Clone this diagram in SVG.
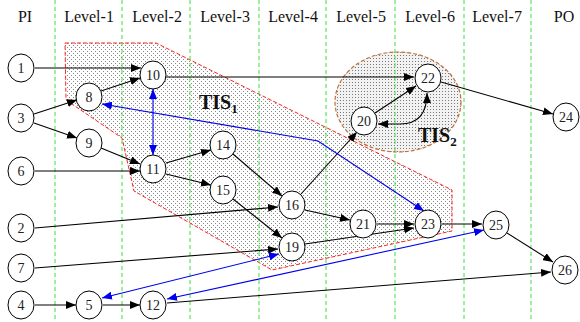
<svg xmlns="http://www.w3.org/2000/svg" width="580" height="322" viewBox="0 0 580 322">
<style>
.hdr{font-family:"Liberation Serif","Times New Roman",serif;font-size:16px;fill:#111;text-anchor:middle}
.grid{stroke:#3ae03a;stroke-width:1;stroke-dasharray:4,3}
.e{stroke:#000;stroke-width:1.1;fill:none;marker-end:url(#ab)}
.b{stroke:#0000ee;stroke-width:1.1;fill:none;marker-end:url(#abl);marker-start:url(#abl)}
.n ellipse{fill:#fff;stroke:#000;stroke-width:1}
.n text{font-family:"Liberation Serif","Times New Roman",serif;font-size:14px;fill:#222;text-anchor:middle}
.tis{font-family:"Liberation Serif","Times New Roman",serif;font-size:20px;font-weight:bold;fill:#111}
</style>
<defs>
<marker id="ab" viewBox="0 0 10 8" refX="10" refY="4" markerWidth="10" markerHeight="8" markerUnits="userSpaceOnUse" orient="auto-start-reverse"><path d="M0,0 L10,4 L0,8 z" fill="#000"/></marker>
<marker id="abl" viewBox="0 0 10 8" refX="10" refY="4" markerWidth="10" markerHeight="8" markerUnits="userSpaceOnUse" orient="auto-start-reverse"><path d="M0,0 L10,4 L0,8 z" fill="#0000ee"/></marker>
<pattern id="dots1" width="4" height="4" patternUnits="userSpaceOnUse"><rect width="4" height="4" fill="#fff"/><rect x="1" y="1" width="1" height="1" fill="#888"/><rect x="3" y="3" width="1" height="1" fill="#888"/></pattern>
<pattern id="dots2" width="3" height="3" patternUnits="userSpaceOnUse"><rect width="3" height="3" fill="#f2f2f2"/><rect x="1" y="1" width="1" height="1" fill="#777"/></pattern>
</defs>
<g id="regions">
<path id="TIS1-region" d="M65,43 L156,43 L452,190 L452,231 L272,270 L134,191 L122,138 L66,100 Z" fill="url(#dots1)" stroke="#ff2020" stroke-width="1" stroke-dasharray="4,2"/>
<ellipse id="TIS2-region" cx="398" cy="102" rx="63" ry="50" fill="url(#dots2)" stroke="#c0703a" stroke-width="1.2" stroke-dasharray="4,2"/>
</g>
<g id="grid">
<line class="grid" x1="55" y1="0" x2="55" y2="322"/>
<line class="grid" x1="122" y1="0" x2="122" y2="322"/>
<line class="grid" x1="190" y1="0" x2="190" y2="322"/>
<line class="grid" x1="259" y1="0" x2="259" y2="322"/>
<line class="grid" x1="326" y1="0" x2="326" y2="322"/>
<line class="grid" x1="395" y1="0" x2="395" y2="322"/>
<line class="grid" x1="464" y1="0" x2="464" y2="322"/>
<line class="grid" x1="531" y1="0" x2="531" y2="322"/>
</g>
<g id="headers">
<text class="hdr" x="25" y="22">PI</text>
<text class="hdr" x="89" y="22">Level-1</text>
<text class="hdr" x="157" y="22">Level-2</text>
<text class="hdr" x="225" y="22">Level-3</text>
<text class="hdr" x="293" y="22">Level-4</text>
<text class="hdr" x="361" y="22">Level-5</text>
<text class="hdr" x="430" y="22">Level-6</text>
<text class="hdr" x="497" y="22">Level-7</text>
<text class="hdr" x="564" y="22">PO</text>
</g>
<g id="connectors">
<path class="e" d="M35,68 L141,68"/>
<path class="e" d="M34,114 L77,100"/>
<path class="e" d="M34,123 L77,138"/>
<path class="e" d="M101,91 L140,78"/>
<path class="e" d="M101,148 L140,164"/>
<path class="e" d="M35,171 L140,171"/>
<path class="b" d="M153,89 L153,155"/>
<path class="e" d="M166,163 L211,150"/>
<path class="e" d="M166,174 L211,185"/>
<path class="e" d="M233,154 L282,196"/>
<path class="e" d="M233,199 L282,238"/>
<path class="e" d="M35,228 L278,207"/>
<path class="e" d="M35,268 L278,249"/>
<path class="e" d="M35,305 L76,305"/>
<path class="e" d="M103,305 L140,305"/>
<path class="e" d="M167,303 L551,272"/>
<path class="e" d="M301,194 L357,132"/>
<path class="e" d="M305,210 L350,220"/>
<path class="e" d="M377,224 L414,224"/>
<path class="e" d="M305,244 L414,228"/>
<path class="e" d="M442,224 L482,224"/>
<path class="e" d="M507,233 L553,262"/>
<path class="e" d="M166,77 L414,77"/>
<path class="e" d="M375,113 L416,86"/>
<path class="e" style="marker-start:url(#ab)" d="M427,93 C427,112 420,124 400,124 L378,124"/>
<path class="e" d="M441,82 L553,114"/>
<path class="b" d="M102,104 L318,141 L424,211"/>
<path class="b" d="M102,298 L279,254"/>
<path class="b" d="M167,299 L484,230"/>
</g>
<g id="n1" class="n"><ellipse cx="21" cy="68" rx="13" ry="14"/><text x="21" y="73">1</text></g>
<g id="n3" class="n"><ellipse cx="21" cy="118" rx="13" ry="14"/><text x="21" y="123">3</text></g>
<g id="n6" class="n"><ellipse cx="21" cy="171" rx="13" ry="14"/><text x="21" y="176">6</text></g>
<g id="n2" class="n"><ellipse cx="21" cy="228" rx="13" ry="14"/><text x="21" y="233">2</text></g>
<g id="n7" class="n"><ellipse cx="21" cy="268" rx="13" ry="14"/><text x="21" y="273">7</text></g>
<g id="n4" class="n"><ellipse cx="21" cy="305" rx="13" ry="14"/><text x="21" y="310">4</text></g>
<g id="n8" class="n"><ellipse cx="89" cy="97" rx="13" ry="14"/><text x="89" y="102">8</text></g>
<g id="n9" class="n"><ellipse cx="89" cy="143" rx="13" ry="14"/><text x="89" y="148">9</text></g>
<g id="n5" class="n"><ellipse cx="89" cy="305" rx="13" ry="14"/><text x="89" y="310">5</text></g>
<g id="n10" class="n"><ellipse cx="153" cy="75" rx="13" ry="14"/><text x="153" y="80">10</text></g>
<g id="n11" class="n"><ellipse cx="153" cy="169" rx="13" ry="14"/><text x="153" y="174">11</text></g>
<g id="n12" class="n"><ellipse cx="153" cy="305" rx="13" ry="14"/><text x="153" y="310">12</text></g>
<g id="n14" class="n"><ellipse cx="223" cy="145" rx="13" ry="14"/><text x="223" y="150">14</text></g>
<g id="n15" class="n"><ellipse cx="223" cy="190" rx="13" ry="14"/><text x="223" y="195">15</text></g>
<g id="n16" class="n"><ellipse cx="292" cy="205" rx="13" ry="14"/><text x="292" y="210">16</text></g>
<g id="n19" class="n"><ellipse cx="292" cy="247" rx="13" ry="14"/><text x="292" y="252">19</text></g>
<g id="n20" class="n"><ellipse cx="364" cy="121" rx="13" ry="14"/><text x="364" y="126">20</text></g>
<g id="n21" class="n"><ellipse cx="363" cy="224" rx="13" ry="14"/><text x="363" y="229">21</text></g>
<g id="n22" class="n"><ellipse cx="428" cy="78" rx="13" ry="14"/><text x="428" y="83">22</text></g>
<g id="n23" class="n"><ellipse cx="428" cy="224" rx="13" ry="14"/><text x="428" y="229">23</text></g>
<g id="n24" class="n"><ellipse cx="566" cy="117" rx="13" ry="14"/><text x="566" y="122">24</text></g>
<g id="n25" class="n"><ellipse cx="496" cy="225" rx="13" ry="14"/><text x="496" y="230">25</text></g>
<g id="n26" class="n"><ellipse cx="565" cy="270" rx="13" ry="14"/><text x="565" y="275">26</text></g>
<g id="labels">
<text class="tis" x="199" y="109">TIS<tspan font-size="13" dy="4">1</tspan></text>
<text class="tis" x="418" y="142">TIS<tspan font-size="13" dy="4">2</tspan></text>
</g>
</svg>
